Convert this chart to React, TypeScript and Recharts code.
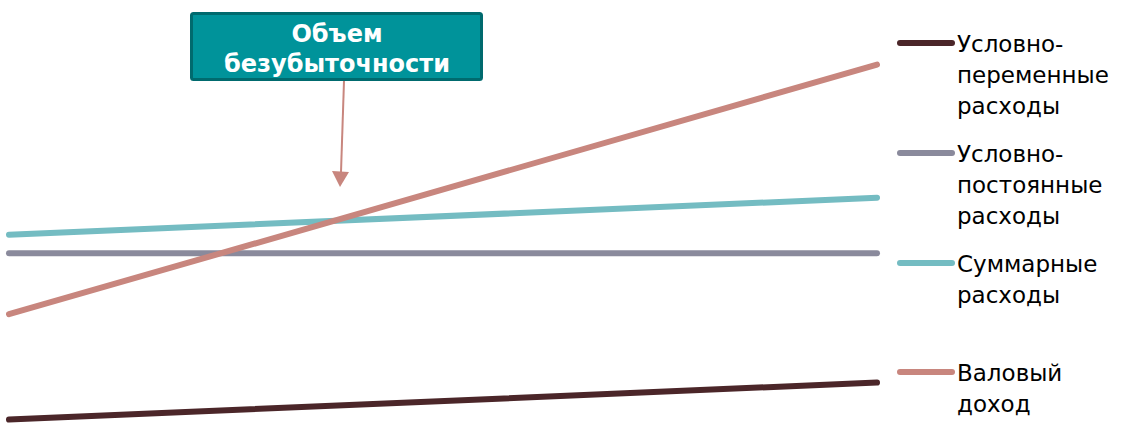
import React from "react";
import { LineChart, Line, XAxis, YAxis, Legend, Customized } from "recharts";

const xPoints = [0, 1];
const variableCosts = [10, 30];
const fixedCosts = [100, 100];
const totalCosts = [110, 130];
const grossIncome = [67, 202];

const seriesNames = [
  "Условно-\nпеременные\nрасходы",
  "Условно-\nпостоянные\nрасходы",
  "Суммарные\nрасходы",
  "Валовый\nдоход",
];
const seriesKeys = ["variable", "fixed", "total", "income"];
const seriesColors = ["#4B2629", "#8A8A9C", "#74BCC2", "#C8867E"];
const annotationLines = ["Объем", "безубыточности"];

const data = xPoints.map((x, i) => ({
  x,
  variable: variableCosts[i],
  fixed: fixedCosts[i],
  total: totalCosts[i],
  income: grossIncome[i],
}));

const FONT = "'DejaVu Sans', Verdana, sans-serif";

const legendTops = [29, 139, 249, 358];

const LegendContent = () => (
  <div style={{ position: "relative", width: 226, height: 420 }}>
    {seriesNames.map((name, i) => (
      <div
        key={i}
        style={{ position: "absolute", left: 0, top: legendTops[i], display: "flex" }}
      >
        <svg width={60} height={31} style={{ display: "block" }}>
          <line x1={3} y1={14} x2={55} y2={14} stroke={seriesColors[i]} strokeWidth={6} strokeLinecap="round" />
        </svg>
        <div
          style={{
            fontFamily: FONT,
            fontSize: 23,
            lineHeight: "31px",
            color: "#000",
            whiteSpace: "pre",
          }}
        >
          {name}
        </div>
      </div>
    ))}
  </div>
);

const Annotation = () => (
  <g>
    <rect x={191.5} y={13.5} width={290} height={66} rx={2} fill="#00939A" stroke="#006A6E" strokeWidth={3} />
    <text x={337} y={42} textAnchor="middle" fill="#fff" fontFamily={FONT} fontWeight="bold" fontSize={24}>
      {annotationLines[0]}
    </text>
    <text x={337} y={72} textAnchor="middle" fill="#fff" fontFamily={FONT} fontWeight="bold" fontSize={24}>
      {annotationLines[1]}
    </text>
    <line x1={344} y1={81} x2={341} y2={172} stroke="#C8867E" strokeWidth={2} />
    <polygon points="332,171 349,172 340,187" fill="#C8867E" />
  </g>
);

export default function App() {
  return (
    <div style={{ position: "absolute", left: 0, top: 0, width: 1123, height: 423, overflow: "hidden", background: "#fff" }}>
      <LineChart width={1123} height={440} data={data} margin={{ top: 0, right: 20, bottom: 2, left: 9 }}>
        <XAxis dataKey="x" type="number" domain={[0, 1]} hide />
        <YAxis type="number" domain={[0, 237]} hide />
        <Legend
          layout="vertical"
          align="right"
          verticalAlign="top"
          content={<LegendContent />}
          wrapperStyle={{ left: 897, top: 0, width: 226 }}
        />
        {seriesKeys.map((k, i) => (
          <Line
            key={k}
            dataKey={k}
            name={seriesNames[i]}
            stroke={seriesColors[i]}
            strokeWidth={6}
            strokeLinecap="round"
            dot={false}
            activeDot={false}
            isAnimationActive={false}
            type="linear"
          />
        ))}
        <Customized component={Annotation} />
      </LineChart>
    </div>
  );
}
